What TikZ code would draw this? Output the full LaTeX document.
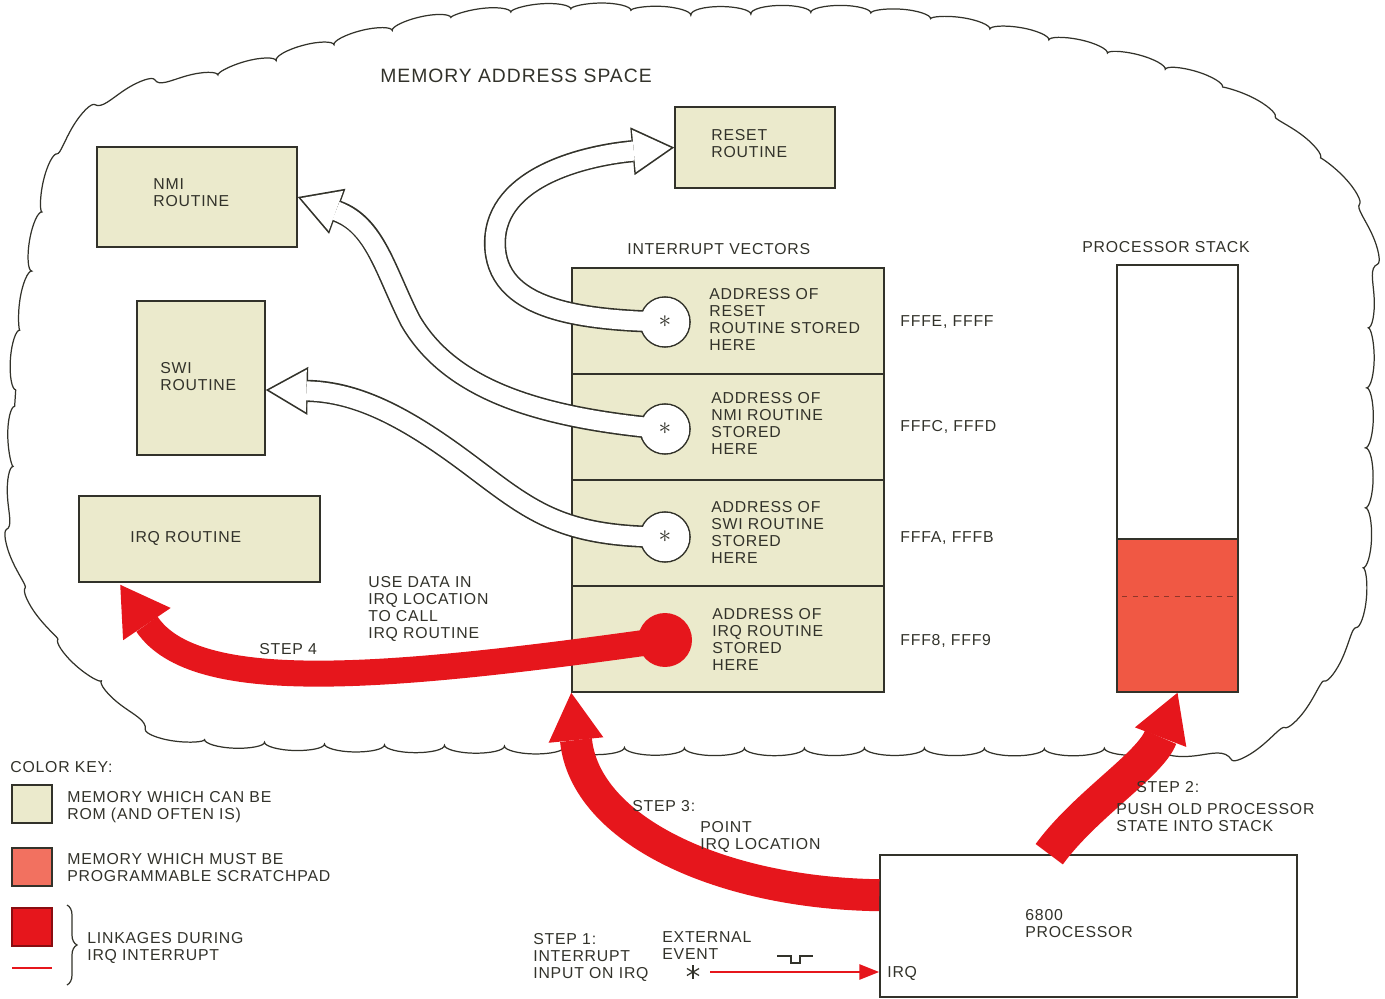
\documentclass[tikz,border=0pt]{standalone}
\usepackage{fontspec}
\setmainfont{Liberation Sans}[LetterSpace=5]
\usetikzlibrary{arrows.meta,calc,decorations.pathmorphing,decorations.pathreplacing}

\definecolor{ink}{RGB}{50,50,42}
\definecolor{rom}{RGB}{235,234,204}
\definecolor{scratch}{RGB}{240,88,68}
\definecolor{linkred}{RGB}{230,22,28}

\begin{document}
\begin{tikzpicture}[x=0.02cm, y=-0.02cm,
    membox/.style={draw=ink, line width=0.9pt, fill=rom, inner sep=0pt},
    plainbox/.style={draw=ink, line width=0.9pt, fill=white, inner sep=0pt},
    lbl/.style={font=\fontsize{9}{9.6}\selectfont, text=ink, align=left, inner sep=0pt, anchor=north west},
    tag/.style={font=\fontsize{9}{9.6}\selectfont, text=ink, inner sep=0pt, anchor=base west},
    vcirc/.style={circle, draw=ink, line width=0.9pt, fill=white, minimum size=1cm, inner sep=0pt},
    star/.style={font=\Large, text=ink, inner sep=0pt},
    hollowout/.style={draw=ink, line width=0.38cm+1.8pt, -{Triangle[length=0.84cm, width=0.96cm, line width=0pt]}},
    hollowin/.style={draw=white, line width=0.38cm, shorten >=1.9pt, -{Triangle[length=0.745cm, width=0.85cm, line width=0pt]}},
    bigred/.style={draw=linkred, line width=#1, -{Triangle[length=0.95cm, width=1.1cm, line width=0pt]}},
  ]
  \useasboundingbox (0,0) rectangle (1385,999);

  % Memory address space: the cloud
  \draw[ink, line width=0.7pt, decorate, decoration={bumps, segment length=2.4cm, amplitude=0.15cm}]
    plot[smooth cycle, tension=0.6] coordinates {(16,470) (16,390) (26,310) (39,235) (59,165) (99,116)
      (150,94) (210,79) (270,62) (355,40) (445,21) (560,11) (680,14) (860,14) (995,31) (1105,54)
      (1211,86) (1281,129) (1328,172) (1358,224) (1366,290) (1366,400) (1364,530) (1354,610)
      (1321,673) (1281,721) (1230,744) (1100,748) (900,748) (700,748) (500,746) (300,743)
      (185,734) (129,701) (79,656) (39,601) (19,545)};
  \node[tag, font=\fontsize{11}{12}\selectfont] (title) at (380,83) {MEMORY ADDRESS SPACE};

  % Routines
  \node[membox, minimum width=4cm, minimum height=2cm] (nmi) at (197,197) {};
  \node[membox, minimum width=2.56cm, minimum height=3.08cm] (swi) at (201,378) {};
  \node[membox, minimum width=4.82cm, minimum height=1.72cm] (irq) at (199.5,539) {};
  \node[membox, minimum width=3.2cm, minimum height=1.62cm] (reset) at (755,147.5) {};
  \node[lbl] (nmitext) at (153,178.5) {NMI\\ROUTINE};
  \node[lbl] (switext) at (160,362.5) {SWI\\ROUTINE};
  \node[tag] (irqtext) at (130,542.5) {IRQ ROUTINE};
  \node[lbl] (resettext) at (711,129.5) {RESET\\ROUTINE};

  % Interrupt vectors
  \node[tag] (vectitle) at (627,254.5) {INTERRUPT VECTORS};
  \foreach \i/\y in {1/321,2/427,3/533,4/639}
    \node[membox, minimum width=6.24cm, minimum height=2.12cm] (v\i) at (728,\y) {};
  \node[lbl] (v1text) at (709,288.5) {ADDRESS OF\\RESET\\ROUTINE STORED\\HERE};
  \node[lbl] (v2text) at (711,392.5) {ADDRESS OF\\NMI ROUTINE\\STORED\\HERE};
  \node[lbl] (v3text) at (711,501.5) {ADDRESS OF\\SWI ROUTINE\\STORED\\HERE};
  \node[lbl] (v4text) at (712,608.5) {ADDRESS OF\\IRQ ROUTINE\\STORED\\HERE};
  \node[tag] (a1) at (900,326.5) {FFFE, FFFF};
  \node[tag] (a2) at (900,431.5) {FFFC, FFFD};
  \node[tag] (a3) at (900,542.5) {FFFA, FFFB};
  \node[tag] (a4) at (900,645.5) {FFF8, FFF9};

  % Hollow vector arrows
  \foreach \i/\y in {1/322,2/429,3/537}
    \node[vcirc] (c\i) at (665,\y) {};
  \foreach \s in {hollowout,hollowin} {
    \draw[\s] (c1.center) .. controls (580,320) and (495,310) .. (495,243)
      .. controls (495,175) and (590,155) .. (reset.west);
    \draw[\s] (c2.center) .. controls (540,418) and (450,390) .. (410,320)
      .. controls (385,270) and (375,225) .. (nmi.east);
    \draw[\s] (c3.center) .. controls (560,537) and (530,510) .. (470,465)
      .. controls (410,420) and (360,392) .. ([yshift=-0.24cm]swi.east);
  }
  \foreach \i in {1,2,3} {
    \fill[white] (c\i) circle (0.484cm);
    \node[star] (s\i) at (c\i) {$\ast$};
  }

  % Processor stack
  \node[tag] (stacktitle) at (1082,252.5) {PROCESSOR STACK};
  \node[plainbox, minimum width=2.42cm, minimum height=5.48cm] (stack) at (1177.5,402) {};
  \node[plainbox, fill=scratch, minimum width=2.42cm, minimum height=3.06cm] (used) at (1177.5,615.5) {};
  \draw[scratch!60!black, line width=0.4pt, dashed] (1122,596) -- (1233,596);

  % 6800 processor
  \node[plainbox, minimum width=8.34cm, minimum height=2.84cm] (proc) at (1088.5,926) {};
  \node[lbl] (proctext) at (1025,909.5) {6800\\PROCESSOR};
  \node[tag] (irqpin) at (887,977.5) {IRQ};

  % Step 1: external event on IRQ
  \coordinate (ev) at (693,972);
  \foreach \a in {90,30,-30}
    \draw[ink, line width=0.7pt] (ev) ++(\a:7) -- ++(\a+180:14);
  \draw[linkred, line width=1.6pt, -{Triangle[length=0.4cm, width=0.3cm]}]
    ([xshift=0.34cm]ev) -- (ev -| proc.west);
  \draw[ink, line width=0.6pt] (777,956) -- (791,956) -- (791,963) -- (800,963) -- (800,956) -- (813,956);
  \node[lbl] (step1) at (533,933.5) {STEP 1:\\INTERRUPT\\INPUT ON IRQ};
  \node[lbl] (event) at (662,931.5) {EXTERNAL\\EVENT};

  % Steps 2, 3, 4: red linkages
  \draw[bigred=0.68cm] ([xshift=3.4cm]proc.north west) .. controls (1085,805) and (1150,765) .. (used.south);
  \draw[bigred=0.64cm] ([yshift=-0.82cm]proc.north west) .. controls (720,893) and (585,830) .. (v4.south west);
  \node[circle, fill=linkred, minimum size=1.08cm, inner sep=0pt] (c4) at (665,640) {};
  \draw[bigred=0.52cm, -{Triangle[length=0.95cm, width=1.15cm, line width=0pt]}]
    (c4.center) .. controls (380,680) and (195,695) .. ($(irq.south west)+(42,2)$);
  \node[lbl] (step2) at (1136,781.5) {STEP 2:};
  \node[lbl] (push) at (1116,803.5) {PUSH OLD PROCESSOR\\STATE INTO STACK};
  \node[lbl] (step3) at (632,800.5) {STEP 3:};
  \node[lbl] (point) at (700,821.5) {POINT\\IRQ LOCATION};
  \node[tag] (step4) at (259,654.5) {STEP 4};
  \node[lbl] (usedata) at (368,576.5) {USE DATA IN\\IRQ LOCATION\\TO CALL\\IRQ ROUTINE};

  % Color key
  \node[tag] (keytitle) at (10,772.5) {COLOR KEY:};
  \node[membox, minimum width=0.8cm, minimum height=0.76cm] (keyrom) at (32,804) {};
  \node[plainbox, fill=scratch!85!white, minimum width=0.8cm, minimum height=0.76cm] (keyram) at (32,867) {};
  \node[plainbox, draw=linkred!60!black, fill=linkred, minimum width=0.8cm, minimum height=0.76cm] (keylink) at (32,927) {};
  \draw[linkred, line width=1.6pt] (12,968) -- (52,968);
  \draw[ink, line width=0.7pt, decorate, decoration={brace, amplitude=0.2cm}] (67,905) -- (67,985);
  \node[lbl] (keyromtext) at (67,791.5) {MEMORY WHICH CAN BE\\ROM (AND OFTEN IS)};
  \node[lbl] (keyramtext) at (67,853.5) {MEMORY WHICH MUST BE\\PROGRAMMABLE SCRATCHPAD};
  \node[lbl] (keylinktext) at (87,932.5) {LINKAGES DURING\\IRQ INTERRUPT};
\end{tikzpicture}
\end{document}
